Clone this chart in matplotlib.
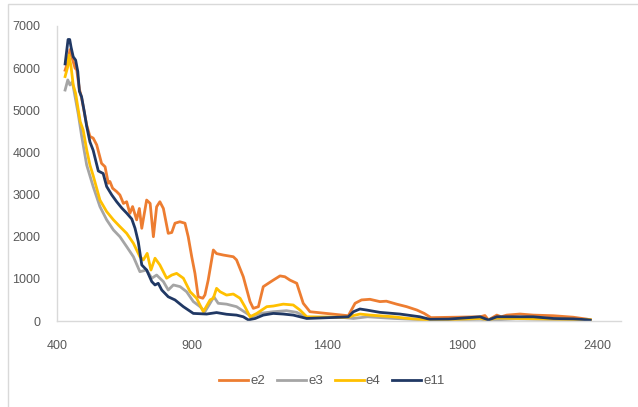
import matplotlib
matplotlib.use("Agg")
import matplotlib.pyplot as plt
from matplotlib.patches import Rectangle

# ---- data ----
x_e2 = [430, 440, 448, 458, 467, 473, 483, 491, 501, 510, 522, 534, 547, 565, 578, 590, 596, 606,
        621, 633, 646, 658, 670, 680, 695, 705, 714, 732, 745, 757, 769, 781, 794, 812, 825, 837,
        855, 874, 886, 899, 911, 923, 940, 948, 960, 979, 991, 1016, 1053, 1065, 1090, 1115, 1127,
        1146, 1164, 1183, 1201, 1226, 1244, 1263, 1288, 1312, 1337, 1479, 1504, 1528, 1559, 1596,
        1620, 1658, 1695, 1733, 1760, 1785, 1967, 1985, 1998, 2029, 2045, 2066, 2115, 2164, 2238,
        2312, 2362, 2375]
y_e2 = [5950, 6150, 6440, 6200, 6000, 5960, 5500, 5300, 4950, 4650, 4380, 4340, 4180, 3740, 3660,
        3270, 3310, 3150, 3070, 2990, 2790, 2830, 2555, 2715, 2400, 2670, 2200, 2870, 2790, 2000,
        2710, 2830, 2670, 2080, 2100, 2320, 2355, 2320, 2000, 1525, 1130, 575, 540, 620, 970, 1685,
        1600, 1565, 1525, 1450, 1050, 460, 300, 340, 815, 895, 970, 1070, 1050, 970, 895, 420, 220,
        125, 420, 500, 515, 460, 470, 400, 340, 260, 180, 80, 100, 130, 25, 140, 100, 140, 165, 140,
        125, 90, 45, 30]

x_e3 = [430, 440, 448, 457, 467, 479, 491, 510, 534, 559, 584, 609, 633, 658, 683, 707, 732, 751,
        769, 794, 812, 831, 856, 880, 905, 930, 948, 967, 981, 997, 1028, 1065, 1103, 1121, 1152,
        1201, 1250, 1288, 1325, 1448, 1498, 1550, 1650, 1785, 1967, 2000, 2100, 2200, 2300, 2375]
y_e3 = [5480, 5720, 5600, 5680, 5320, 4900, 4400, 3700, 3190, 2715, 2400, 2160, 2000, 1765, 1525,
        1170, 1210, 1015, 1090, 935, 735, 855, 815, 695, 460, 340, 220, 420, 575, 420, 400, 340,
        180, 100, 180, 220, 245, 205, 80, 90, 60, 100, 60, 20, 40, 20, 50, 40, 30, 20]

x_e4 = [430, 440, 444, 452, 460, 469, 479, 486, 497, 510, 522, 534, 559, 584, 609, 633, 658, 683,
        707, 720, 734, 748, 763, 781, 806, 825, 843, 868, 893, 917, 942, 967, 979, 991, 1004, 1028,
        1053, 1078, 1096, 1115, 1140, 1177, 1201, 1238, 1275, 1300, 1325, 1448, 1479, 1498, 1522,
        1560, 1646, 1700, 1785, 1967, 1998, 2029, 2100, 2200, 2300, 2375]
y_e4 = [5800, 6040, 6310, 6040, 5600, 5400, 5000, 4730, 4530, 4060, 3700, 3450, 2870, 2595, 2400,
        2240, 2080, 1845, 1525, 1450, 1605, 1210, 1490, 1330, 1015, 1090, 1130, 1015, 695, 540, 220,
        500, 540, 775, 695, 615, 640, 540, 340, 100, 180, 340, 355, 400, 380, 260, 100, 90, 90, 130,
        165, 140, 100, 60, 20, 60, 30, 70, 60, 50, 40, 30]

x_e11 = [430, 441, 447, 452, 460, 469, 477, 483, 491, 501, 510, 522, 534, 553, 571, 584, 603, 621,
         640, 658, 677, 689, 701, 714, 732, 751, 763, 775, 788, 812, 837, 868, 905, 954, 991, 1028,
         1065, 1090, 1109, 1134, 1164, 1201, 1238, 1275, 1325, 1448, 1479, 1498, 1522, 1547, 1596,
         1670, 1744, 1781, 1850, 1967, 1998, 2029, 2066, 2115, 2164, 2238, 2312, 2362, 2375]
y_e11 = [6100, 6680, 6680, 6500, 6270, 6190, 5920, 5450, 5320, 4970, 4620, 4250, 4050, 3560, 3500,
         3190, 2990, 2830, 2680, 2560, 2420, 2200, 1880, 1330, 1210, 935, 855, 895, 735, 575, 500,
         340, 180, 165, 200, 160, 140, 100, 25, 60, 140, 180, 165, 140, 60, 90, 100, 220, 285, 260,
         205, 165, 100, 40, 45, 100, 25, 100, 100, 100, 100, 60, 50, 30, 20]

series_names = ["e2", "e3", "e4", "e11"]
series_x = [x_e2, x_e3, x_e4, x_e11]
series_y = [y_e2, y_e3, y_e4, y_e11]
colors = ["#ED7D31", "#A5A5A5", "#FFC000", "#203864"]

x_ticks = [400, 900, 1400, 1900, 2400]
y_ticks = [0, 1000, 2000, 3000, 4000, 5000, 6000, 7000]

# ---- figure ----
W, H = 638, 407
fig = plt.figure(figsize=(W / 100, H / 100), dpi=100)
plt.rcParams['font.family'] = ['Liberation Sans', 'DejaVu Sans']

# chart border
fig.patches.append(Rectangle((8 / W, -0.05), 1.2, (H - 4) / H + 0.05, transform=fig.transFigure,
                             fill=False, edgecolor="#D9D9D9", linewidth=1.0))

left, right = 57 / W, 621 / W
bottom, top = (H - 321) / H, (H - 26) / H
ax = fig.add_axes([left, bottom, right - left, top - bottom])

for name, xs, ys, c in zip(series_names, series_x, series_y, colors):
    ax.plot(xs, ys, color=c, linewidth=2.0, label=name, solid_joinstyle="round")

ax.set_xlim(400, 2489)
ax.set_ylim(0, 7000)
ax.set_xticks(x_ticks)
ax.set_yticks(y_ticks)
ax.tick_params(length=0, labelsize=9, labelcolor="#595959")
ax.tick_params(axis="y", pad=12)
ax.tick_params(axis="x", pad=14)
for s in ["top", "right"]:
    ax.spines[s].set_visible(False)
for s in ["left", "bottom"]:
    ax.spines[s].set_color("#D9D9D9")
    ax.spines[s].set_linewidth(1.0)

leg = fig.legend(loc="center", bbox_to_anchor=(332 / W, (H - 381) / H), ncol=4, frameon=False,
                 fontsize=9.5, handlelength=2.2, columnspacing=0.9, handletextpad=0.15)
for t in leg.get_texts():
    t.set_color("#595959")

fig.savefig("out.png", dpi=100)
